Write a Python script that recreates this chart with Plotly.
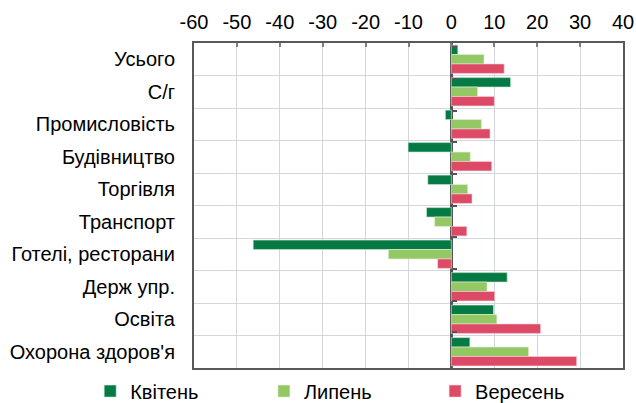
import plotly.graph_objects as go

categories = ["Усього", "С/г", "Промисловість", "Будівництво", "Торгівля",
              "Транспорт", "Готелі, ресторани", "Держ упр.", "Освіта", "Охорона здоров'я"]
series_names = ["Квітень", "Липень", "Вересень"]
kviten = [1.5, 13.8, -1.4, -10.1, -5.5, -5.8, -46.2, 13.0, 9.8, 4.3]
lypen = [7.6, 6.1, 7.0, 4.4, 3.8, -3.9, -14.7, 8.3, 10.6, 18.0]
veresen = [12.3, 10.0, 9.0, 9.4, 4.8, 3.6, -3.2, 10.1, 20.8, 29.2]
colors = ["#067a45", "#93c865", "#dd4a65"]
border_colors = ["#cfe8d9", "#e4f2d8", "#f7d3da"]
x_ticks = [-60, -50, -40, -30, -20, -10, 0, 10, 20, 30, 40]
x_tick_labels = ["-60", "-50", "-40", "-30", "-20", "-10", "0", "10", "20", "30", "40"]

FONT = "Liberation Sans, Arial, sans-serif"
legend_ids = ["legend", "legend2", "legend3"]
legend_x = [-0.242, 0.163, 0.562]

fig = go.Figure()
for name, vals, c, bc, lg in zip(series_names, [kviten, lypen, veresen], colors, border_colors, legend_ids):
    fig.add_trace(go.Bar(y=categories, x=vals, name=name, orientation="h", legend=lg,
                         marker=dict(color=c, line=dict(color=bc, width=0.6))))

# helper axis drawn at zero for category boundary ticks
fig.add_trace(go.Scatter(y=categories, x=[None] * len(categories), yaxis="y2",
                         showlegend=False, hoverinfo="skip", mode="markers"))

legend_common = dict(orientation="h", y=-0.071, xanchor="left", yanchor="middle",
                     font=dict(size=20), itemclick=False, bgcolor="rgba(0,0,0,0)")

fig.update_layout(
    width=636, height=403,
    margin=dict(l=194, r=13, t=43, b=35, autoexpand=False),
    paper_bgcolor="white", plot_bgcolor="white",
    barmode="group", bargap=0.13, bargroupgap=0,
    font=dict(family=FONT, size=20, color="#000000"),
    xaxis=dict(range=[-60, 40], tickvals=x_ticks, ticktext=x_tick_labels, side="top",
               showgrid=True, gridcolor="#d3d7dd", gridwidth=1,
               zeroline=True, zerolinecolor="#555555", zerolinewidth=3,
               showline=True, linecolor="#595959", linewidth=2, mirror=True,
               ticks="inside", ticklen=4, tickcolor="#808080", tickwidth=2,
               tickfont=dict(size=20), ticklabelstandoff=4),
    yaxis=dict(type="category", categoryorder="array", categoryarray=categories,
               autorange="reversed", tickson="boundaries",
               showgrid=True, gridcolor="#d3d7dd", gridwidth=1,
               showline=True, linecolor="#595959", linewidth=2, mirror=True,
               ticks="", ticklabelstandoff=13, tickfont=dict(size=20)),
    yaxis2=dict(type="category", categoryorder="array", categoryarray=categories,
                autorange="reversed", overlaying="y", anchor="free", position=0.6,
                side="right", tickson="boundaries", ticks="outside", ticklen=5,
                tickwidth=2, tickcolor="#555555", showticklabels=False,
                showgrid=False, showline=False, zeroline=False),
    legend=dict(x=legend_x[0], **legend_common),
    legend2=dict(x=legend_x[1], **legend_common),
    legend3=dict(x=legend_x[2], **legend_common),
    showlegend=True,
)

fig.write_html("out.html", config={"displayModeBar": False},
               post_script="document.body.style.margin='0';document.body.style.overflow='hidden';")
